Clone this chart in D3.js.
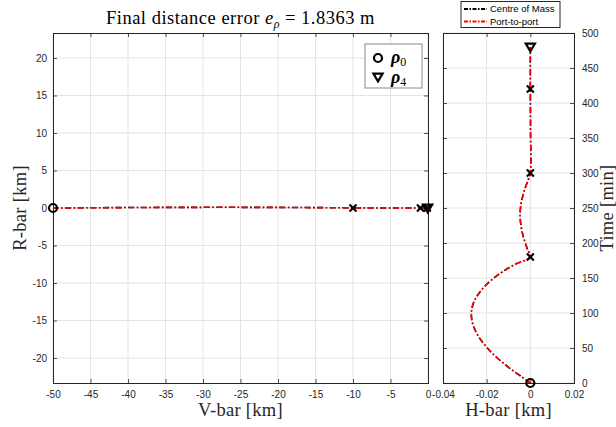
<!DOCTYPE html>
<html><head><meta charset="utf-8">
<script src="https://cdn.jsdelivr.net/npm/d3@7"></script>
<style>body{margin:0;background:#fff}svg{display:block}</style>
</head><body>
<script>
// ---- data ----
const vbarCoM = [-50,-45,-40,-35,-30,-25,-20,-15,-10,-7,-4,-2,-1,-0.6,-0.3,-0.1,-0.05];
const rbarCoM = [0,0.03,0.06,0.08,0.09,0.09,0.08,0.05,0.02,0.01,0.005,0,0,0,0,0,0];
const vbarP2P = vbarCoM.slice();
const rbarP2P = rbarCoM.slice();
const timeMin = [0,10,20,30,40,50,60,70,80,90,100,110,120,130,140,150,160,170,180,
  190,200,210,220,230,240,250,260,270,280,290,300,360,420,480];
const hbarCoM = [0,-0.0045,-0.0090,-0.0130,-0.0166,-0.0197,-0.0223,-0.0244,-0.0259,-0.0268,-0.0270,-0.0265,-0.0252,-0.0231,-0.0203,-0.0167,-0.0122,-0.0067,0,
  -0.0012,-0.0023,-0.0033,-0.0040,-0.0045,-0.0047,-0.0045,-0.0040,-0.0032,-0.0022,-0.0010,0,0.0001,0,0];
const hbarP2P = hbarCoM.slice();
const wpV = [-50,-10,-1,-0.1,-0.05];      // waypoints V-bar
const wpR = [0,0,0,0,0];
const wpT = [0,180,300,420,480];
const wpH = [0,0,0,0,0];
const xTicksV = [-50,-45,-40,-35,-30,-25,-20,-15,-10,-5,0];
const yTicksR = [-20,-15,-10,-5,0,5,10,15,20];
const xTicksH = [-0.04,-0.02,0,0.02];
const yTicksT = [0,50,100,150,200,250,300,350,400,450,500];
const seriesNames = ["Centre of Mass","Port-to-port"];
const seriesColors = ["#000000","#ff0000"];

const W=616,H=427;
const svg=d3.select("body").append("svg").attr("width",W).attr("height",H);
const axc="#262626", grid="#e3e3e3";
const tickFont="'Liberation Sans', Arial, sans-serif";
const serif="'Liberation Serif','Times New Roman',serif";

// left panel
const L={x0:53,x1:428,y0:33,y1:383};
const xV=d3.scaleLinear().domain([-50,0]).range([L.x0,L.x1]);
const yR=d3.scaleLinear().domain([-23.33,23.33]).range([L.y1,L.y0]);
// right panel
const R={x0:443,x1:574,y0:33,y1:383};
const xH=d3.scaleLinear().domain([-0.04,0.02]).range([R.x0,R.x1]);
const yT=d3.scaleLinear().domain([0,500]).range([R.y1,R.y0]);

function panel(P,xs,ys,xt,yt,yRight){
  const g=svg.append("g");
  g.append("rect").attr("x",P.x0).attr("y",P.y0).attr("width",P.x1-P.x0).attr("height",P.y1-P.y0).attr("fill","#fff");
  g.selectAll(".gx").data(xt).enter().append("line").attr("x1",d=>xs(d)).attr("x2",d=>xs(d)).attr("y1",P.y0).attr("y2",P.y1).attr("stroke",grid).attr("stroke-width",1);
  g.selectAll(".gy").data(yt).enter().append("line").attr("y1",d=>ys(d)).attr("y2",d=>ys(d)).attr("x1",P.x0).attr("x2",P.x1).attr("stroke",grid).attr("stroke-width",1);
  const ax=g.append("g").attr("transform",`translate(0,${P.y1})`).call(d3.axisBottom(xs).tickValues(xt).tickSize(-4).tickPadding(8).tickFormat(d=>String(d)));
  const tx=g.append("g").attr("transform",`translate(0,${P.y0})`).call(d3.axisTop(xs).tickValues(xt).tickSize(-4).tickFormat(""));
  let ay,oy;
  if(!yRight){
    ay=g.append("g").attr("transform",`translate(${P.x0},0)`).call(d3.axisLeft(ys).tickValues(yt).tickSize(-4).tickPadding(6).tickFormat(d=>String(d)));
    oy=g.append("g").attr("transform",`translate(${P.x1},0)`).call(d3.axisRight(ys).tickValues(yt).tickSize(-4).tickFormat(""));
  } else {
    ay=g.append("g").attr("transform",`translate(${P.x1},0)`).call(d3.axisRight(ys).tickValues(yt).tickSize(-4).tickPadding(8).tickFormat(d=>String(d)));
    oy=g.append("g").attr("transform",`translate(${P.x0},0)`).call(d3.axisLeft(ys).tickValues(yt).tickSize(-4).tickFormat(""));
  }
  [ax,tx,ay,oy].forEach(a=>{
    a.select(".domain").attr("stroke",axc).attr("stroke-width",1);
    a.selectAll(".tick line").attr("stroke",axc).attr("stroke-width",0.8);
    a.selectAll(".tick text").attr("fill",axc).style("font-family",tickFont).style("font-size","10px");
  });
  return g;
}
panel(L,xV,yR,xTicksV,yTicksR,false);
panel(R,xH,yT,xTicksH,yTicksT,true);

// series lines
const dash="6,2.6,1.4,2.6";
function drawLine(xs,ys,xa,ya,color,offset){
  const line=d3.line().x((d,i)=>xs(xa[i])).y((d,i)=>ys(ya[i])).curve(d3.curveCatmullRom);
  svg.append("path").datum(xa).attr("d",line).attr("fill","none").attr("stroke",color)
    .attr("stroke-width",1.6).attr("stroke-dasharray",dash).attr("stroke-dashoffset",offset);
}
drawLine(xV,yR,vbarCoM,rbarCoM,seriesColors[0],0.6);
drawLine(xV,yR,vbarP2P,rbarP2P,seriesColors[1],0);
drawLine(xH,yT,hbarCoM,timeMin,seriesColors[0],0.6);
drawLine(xH,yT,hbarP2P,timeMin,seriesColors[1],0);

// markers
function circle(g,x,y){g.append("circle").attr("cx",x).attr("cy",y).attr("r",4).attr("fill","none").attr("stroke","#000").attr("stroke-width",2.2);}
function cross(g,x,y){const s=3.5;g.append("path").attr("d",`M${x-s},${y-s}L${x+s},${y+s}M${x-s},${y+s}L${x+s},${y-s}`).attr("stroke","#000").attr("stroke-width",2.2).attr("fill","none");}
function tri(g,x,y){const s=4.6;g.append("path").attr("d",`M${x-s},${y-s*0.75}L${x+s},${y-s*0.75}L${x},${y+s*0.95}Z`).attr("stroke","#000").attr("stroke-width",2.2).attr("fill","none").attr("stroke-linejoin","miter");}
const mg=svg.append("g");
wpV.forEach((v,i)=>{const x=xV(v),y=yR(wpR[i]); if(i===0)circle(mg,x,y); else if(i===wpV.length-1)tri(mg,x,y); else cross(mg,x,y);});
wpT.forEach((t,i)=>{const x=xH(wpH[i]),y=yT(t); if(i===0)circle(mg,x,y); else if(i===wpT.length-1)tri(mg,x,y); else cross(mg,x,y);});

// titles and labels
const title=svg.append("text").attr("x",(L.x0+L.x1)/2).attr("y",24).attr("text-anchor","middle")
  .style("font-family",serif).style("font-size","18.5px").style("letter-spacing","0.5px").attr("fill","#000");
title.append("tspan").text("Final distance error ");
title.append("tspan").text("e").style("font-style","italic");
title.append("tspan").text("ρ").style("font-style","italic").style("font-size","12px").attr("dy",4);
title.append("tspan").text(" = 1.8363 m").attr("dy",-4);

function label(txt,x,y,rot){
  svg.append("text").attr("transform",`translate(${x},${y})rotate(${rot})`).attr("text-anchor","middle")
   .style("font-family",serif).style("font-size","18.5px").style("letter-spacing","0.3px").attr("fill","#262626").text(txt);
}
label("V-bar [km]",(L.x0+L.x1)/2,416,0);
label("H-bar [km]",(R.x0+R.x1)/2,416,0);
label("R-bar [km]",26,208,-90);
label("Time [min]",613,208,-90);

// left legend (markers)
const lg=svg.append("g");
lg.append("rect").attr("x",365).attr("y",44).attr("width",57).attr("height",44).attr("fill","#fff").attr("stroke","#888").attr("stroke-width",1);
circle(lg,378,58); tri(lg,378,77);
[["0",63],["4",83]].forEach(([s,y])=>{
  const t=lg.append("text").attr("x",391).attr("y",y).style("font-family",serif).style("font-size","18px").attr("fill","#000");
  t.append("tspan").text("ρ").style("font-weight","bold").style("font-style","italic");
  t.append("tspan").text(s).style("font-size","12px").attr("dy",3);
});

// right legend (series)
const rg=svg.append("g");
rg.append("rect").attr("x",461).attr("y",1.5).attr("width",99).attr("height",26).attr("fill","#fff").attr("stroke","#262626").attr("stroke-width",1);
seriesNames.forEach((n,i)=>{
  const y=9+i*12.5;
  rg.append("line").attr("x1",464).attr("x2",487).attr("y1",y).attr("y2",y).attr("stroke",seriesColors[i]).attr("stroke-width",1.8).attr("stroke-dasharray","4,1.5,1.5,1.5");
  rg.append("text").attr("x",490).attr("y",y+3.3).style("font-family",tickFont).style("font-size","9.5px").attr("fill","#000").text(n);
});
</script>
</body></html>
